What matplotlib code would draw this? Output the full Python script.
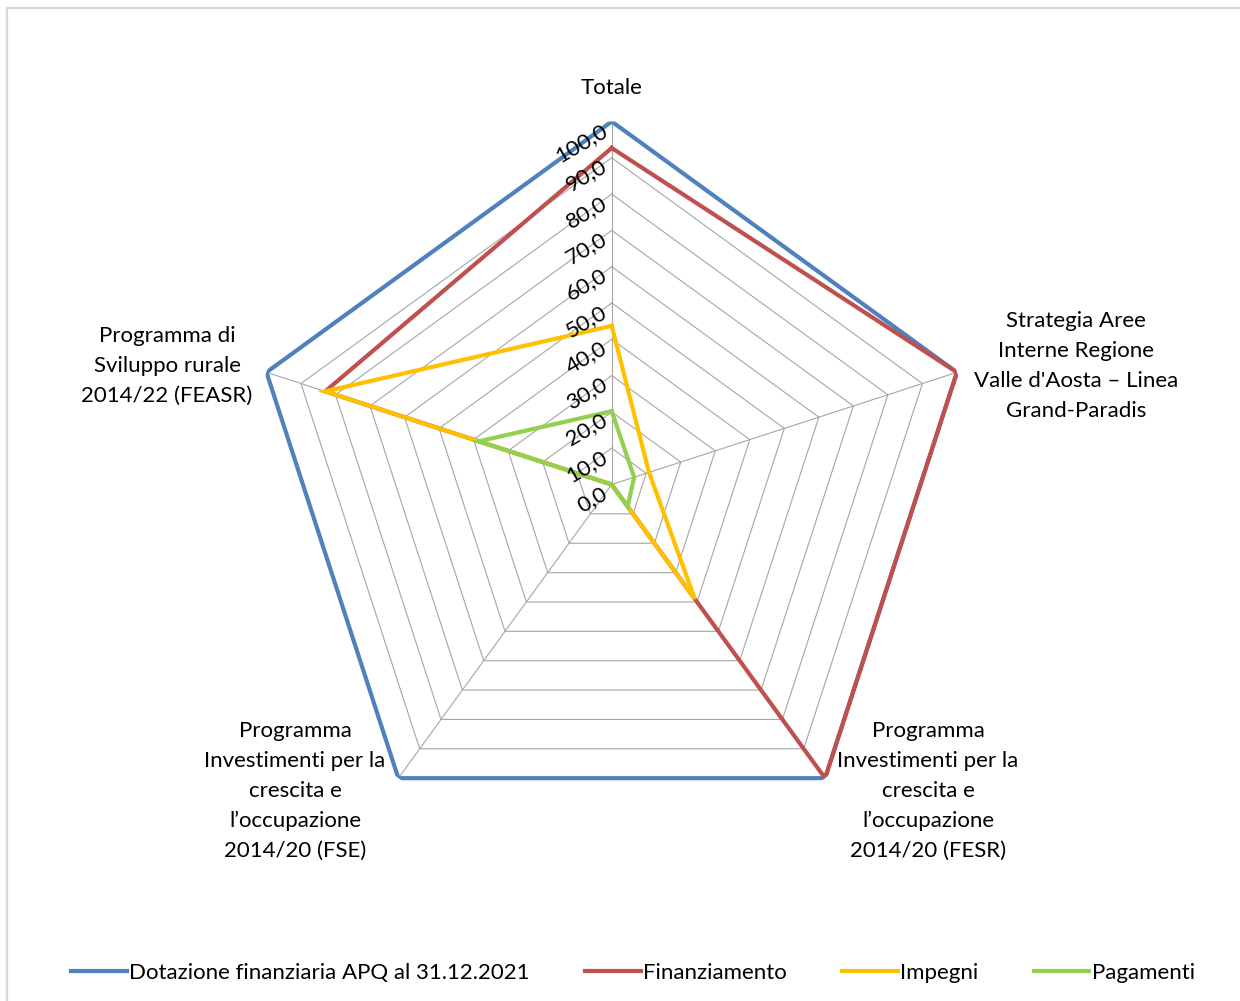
import numpy as np
import matplotlib
matplotlib.use("Agg")
import matplotlib.pyplot as plt
from matplotlib.patches import Rectangle
from matplotlib.lines import Line2D

plt.rcParams['font.family'] = ['Lato', 'DejaVu Sans']

categories = [
    "Totale",
    "Strategia Aree\nInterne Regione\nValle d'Aosta \u2013 Linea\nGrand-Paradis",
    "Programma\nInvestimenti per la\ncrescita e\nl\u2019occupazione\n2014/20 (FESR)",
    "Programma\nInvestimenti per la\ncrescita e\nl\u2019occupazione\n2014/20 (FSE)",
    "Programma di\nSviluppo rurale\n2014/22 (FEASR)",
]
series_names = ["Dotazione finanziaria APQ al 31.12.2021", "Finanziamento", "Impegni", "Pagamenti"]
dotazione = [100, 100, 100, 100, 100]
finanziamento = [92.7, 100, 100, 0, 83]
impegni = [43.7, 10.8, 39, 0, 83]
pagamenti = [20.2, 6.5, 7.5, 0, 38.5]
ticks = np.arange(0, 101, 10)
tick_labels = ["%.1f" % t for t in ticks]
tick_labels = [s.replace(".", ",") for s in tick_labels]

colors = ["#4F81BD", "#C0504D", "#FFC000", "#92D050"]
W, H = 1240, 1001

def px(x, y):
    return x / W, 1 - y / H

fig = plt.figure(figsize=(W / 100, H / 100), dpi=100)
fig.patches.append(Rectangle((7 / W, -0.02), 1.1, (H - 8) / H + 0.02, transform=fig.transFigure,
                             fill=False, edgecolor="#d9d9d9", linewidth=1.6))

cx, cy, R = 611.7, 484.5, 363
ax = fig.add_axes([(cx - R) / W, (H - cy - R) / H, 2 * R / W, 2 * R / H], projection="polar")
ax.set_theta_zero_location("N")
ax.set_theta_direction(-1)
ax.set_ylim(0, 100)
ax.axis("off")

n = len(categories)
theta = np.arange(n) * 2 * np.pi / n
theta_c = np.append(theta, theta[0])

# griglia a pentagoni
for t in ticks[1:]:
    ax.plot(theta_c, [t] * (n + 1), color="#a6a6a6", lw=0.8, zorder=1)
for t in theta:
    ax.plot([t, t], [0, 100], color="#a6a6a6", lw=0.8, zorder=1)

for vals, c in zip([dotazione, finanziamento, impegni, pagamenti], colors):
    ax.plot(theta_c, vals + vals[:1], color=c, lw=3, solid_joinstyle="miter", zorder=3)

for t, lab in zip(ticks, tick_labels):
    ax.annotate(lab, xy=(0, t), xytext=(-6, -7), textcoords="offset pixels",
                ha="right", va="center", rotation=30, rotation_mode="anchor",
                fontsize=16, color="#000000", zorder=4)

label_pos = [(612, 88), (1076, 366), (928, 791), (295, 791), (167, 366)]
for lab, (x, y) in zip(categories, label_pos):
    fig.text(*px(x, y), lab, ha="center", va="center", fontsize=16,
             linespacing=1.62, color="#000000")

handles = [Line2D([], [], color=c, lw=3) for c in colors]
fig.legend(handles, series_names, loc="center", bbox_to_anchor=(px(633, 973)),
           ncol=4, frameon=False, fontsize=16, handlelength=2.5, handletextpad=0.1,
           columnspacing=2.5)

fig.savefig("out.png", dpi=100)
